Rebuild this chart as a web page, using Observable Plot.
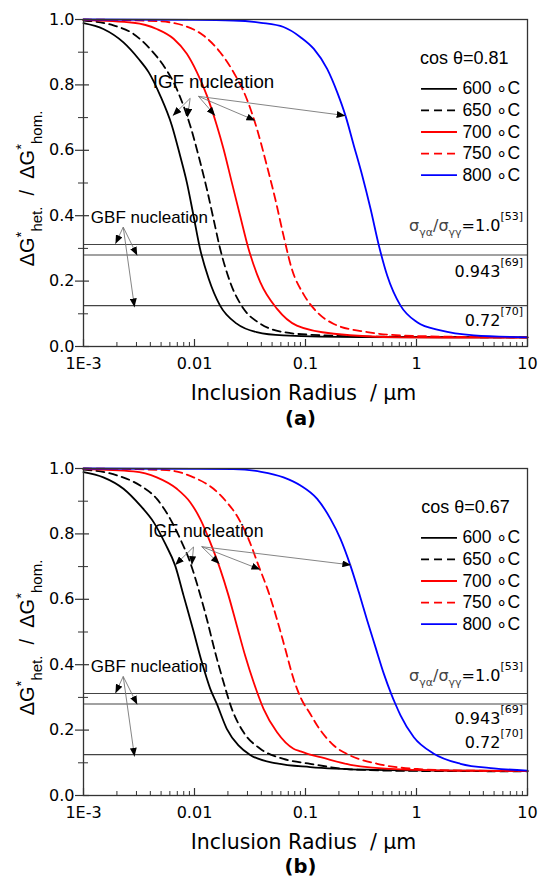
<!DOCTYPE html>
<html><head><meta charset="utf-8">
<script src="https://cdn.jsdelivr.net/npm/d3@7"></script>
<script src="https://cdn.jsdelivr.net/npm/@observablehq/plot@0.6"></script>
<style>
html,body{margin:0;padding:0;background:#fff;overflow:hidden;}
svg{display:block;}
</style></head><body><div id="chart"></div>
<script>
// ---- tick labels / categories ----
const xTickValues = [0.001, 0.01, 0.1, 1, 10];
const xTickLabels = ["1E-3", "0.01", "0.1", "1", "10"];
const yTickValues = [0, 0.2, 0.4, 0.6, 0.8, 1.0];
const yTickLabels = ["0.0", "0.2", "0.4", "0.6", "0.8", "1.0"];
const yMinorValues = [0.1, 0.3, 0.5, 0.7, 0.9];
const temps = ["600 \u2218C", "650 \u2218C", "700 \u2218C", "750 \u2218C", "800 \u2218C"];
const refLevels = [0.312, 0.28, 0.125];

// ---- panel (a): cos θ = 0.81  [radius µm, ΔG*het/ΔG*hom] ----
const a600 = [[0.001,0.989],[0.00151,0.971],[0.00229,0.93],[0.00313,0.88],[0.00386,0.839],[0.0049,0.768],[0.00625,0.676],[0.00741,0.584],[0.00853,0.502],[0.0098,0.40],[0.0112,0.30],[0.0134,0.208],[0.017,0.125],[0.024,0.07],[0.0363,0.044],[0.0631,0.034],[0.316,0.029],[10,0.028]];
const a650 = [[0.001,0.997],[0.00186,0.982],[0.00282,0.956],[0.00398,0.91],[0.00526,0.859],[0.00648,0.808],[0.00794,0.737],[0.00914,0.676],[0.01086,0.584],[0.01291,0.482],[0.01483,0.39],[0.01702,0.299],[0.02094,0.197],[0.0276,0.116],[0.0391,0.07],[0.0634,0.044],[0.1102,0.036],[0.501,0.03],[10,0.028]];
const a700 = [[0.001,0.998],[0.00282,0.99],[0.00457,0.971],[0.00648,0.941],[0.00853,0.895],[0.0105,0.839],[0.01291,0.768],[0.01589,0.676],[0.01824,0.605],[0.02168,0.502],[0.02576,0.40],[0.03062,0.30],[0.0391,0.197],[0.0552,0.116],[0.0836,0.064],[0.18,0.039],[0.718,0.028],[10,0.027]];
const a750 = [[0.001,1.0],[0.00457,0.995],[0.00794,0.982],[0.01205,0.951],[0.01702,0.9],[0.02244,0.839],[0.02958,0.757],[0.03648,0.666],[0.04487,0.553],[0.05333,0.452],[0.06339,0.339],[0.07534,0.237],[0.0959,0.16],[0.1274,0.105],[0.18,0.069],[0.36,0.044],[0.718,0.034],[3.16,0.029],[10,0.028]];
const a800 = [[0.001,1.0],[0.01,0.999],[0.0224,0.997],[0.0398,0.99],[0.0634,0.977],[0.0902,0.946],[0.1189,0.91],[0.1567,0.849],[0.1928,0.778],[0.2291,0.706],[0.2723,0.615],[0.3243,0.523],[0.3855,0.421],[0.4581,0.309],[0.5445,0.217],[0.7178,0.125],[1.014,0.074],[1.644,0.049],[3.289,0.034],[10,0.028]];

// ---- panel (b): cos θ = 0.67 ----
const b600 = [[0.001,0.989],[0.00151,0.973],[0.00229,0.938],[0.00324,0.887],[0.00428,0.836],[0.00545,0.77],[0.0067,0.703],[0.00796,0.612],[0.00966,0.51],[0.01164,0.408],[0.01384,0.327],[0.01589,0.28],[0.01954,0.204],[0.02489,0.153],[0.03177,0.124],[0.0552,0.098],[0.1102,0.087],[0.36,0.079],[2.0,0.076],[10,0.075]];
const b650 = [[0.001,0.997],[0.002,0.979],[0.00324,0.948],[0.00458,0.907],[0.00604,0.846],[0.00743,0.785],[0.00914,0.713],[0.01086,0.632],[0.01291,0.54],[0.01535,0.438],[0.01824,0.347],[0.02168,0.265],[0.0276,0.194],[0.0391,0.143],[0.0634,0.112],[0.1102,0.097],[0.254,0.08],[1.014,0.075],[10,0.074]];
const b700 = [[0.001,0.998],[0.00282,0.991],[0.00457,0.973],[0.00693,0.938],[0.00914,0.897],[0.01125,0.846],[0.01384,0.775],[0.01702,0.693],[0.02023,0.612],[0.02404,0.52],[0.02858,0.428],[0.03404,0.347],[0.04188,0.265],[0.0552,0.194],[0.078,0.143],[0.0902,0.135],[0.1102,0.125],[0.1365,0.117],[0.254,0.094],[0.718,0.08],[2.864,0.076],[10,0.075]];
const b750 = [[0.001,1.0],[0.00562,0.995],[0.0098,0.973],[0.01483,0.938],[0.01954,0.897],[0.02404,0.856],[0.03062,0.785],[0.03776,0.703],[0.04645,0.622],[0.05521,0.54],[0.06561,0.449],[0.078,0.357],[0.0902,0.30],[0.1102,0.25],[0.1274,0.214],[0.1799,0.153],[0.254,0.122],[0.4426,0.097],[1.014,0.081],[2.864,0.076],[10,0.075]];
const b800 = [[0.001,1.0],[0.01,0.999],[0.0224,0.998],[0.0398,0.99],[0.0634,0.973],[0.0902,0.948],[0.1274,0.907],[0.1679,0.846],[0.2065,0.785],[0.2541,0.703],[0.302,0.622],[0.3597,0.535],[0.4276,0.453],[0.5082,0.372],[0.5916,0.311],[0.6471,0.279],[0.7178,0.245],[0.9462,0.178],[1.432,0.128],[2.489,0.097],[4.977,0.083],[10,0.076]];

const seriesColors = ["#000000", "#000000", "#ff0000", "#ff0000", "#0000ff"];
const seriesDash = [null, "8,5", null, "8,5", null];

// annotation arrows [x1, y1, x2, y2] in data units
const arrowsA = [[0.00914,0.759,0.00637,0.706],[0.00914,0.759,0.00865,0.701],[0.01086,0.765,0.01535,0.706],[0.01086,0.765,0.03524,0.691],[0.01086,0.765,0.2291,0.706],
                 [0.00228,0.365,0.00194,0.314],[0.00228,0.365,0.00305,0.278],[0.00228,0.365,0.00288,0.12]];
const arrowsB = [[0.0098,0.76,0.0067,0.705],[0.0098,0.76,0.00946,0.705],[0.01161,0.761,0.0168,0.708],[0.01161,0.761,0.0391,0.691],[0.01161,0.761,0.2576,0.705],
                 [0.00228,0.364,0.00194,0.313],[0.00228,0.364,0.00305,0.278],[0.00228,0.364,0.00288,0.119]];

const ARIAL = "Liberation Sans, Arial, sans-serif";
const DEJA = "DejaVu Sans, sans-serif";

const xMinor = [];
for (const dec of [0.001, 0.01, 0.1, 1]) for (let k = 2; k <= 9; k++) xMinor.push(k * dec);

function rich(sel, parts, base) {
  let cur = 0;
  for (const p of parts) {
    const sh = p.shift || 0;
    const t = sel.append("tspan").attr("dy", sh - cur).attr("font-size", p.size || base).text(p.t);
    if (p.fill) t.attr("fill", p.fill);
    cur = sh;
  }
}

function panel(p) {
  const W = 538, mL = 83, mR = 11, plotW = W - mL - mR;
  const plotH = p.height - p.mT - p.mB;
  const legend = temps.map((t, i) => ({t, i, y: 0.788 - i * 0.066}));
  const chart = Plot.plot({
    width: W, height: p.height,
    marginLeft: mL, marginRight: mR, marginTop: p.mT, marginBottom: p.mB,
    x: {type: "log", domain: [0.001, 10], axis: null},
    y: {domain: [0, 1], axis: null},
    style: {background: "white", fontFamily: DEJA},
    marks: [
      Plot.ruleY(refLevels, {y: d => d, stroke: "#444", strokeWidth: 1.1}),
      ...p.series.map((s, i) => Plot.line(s, {x: d => d[0], y: d => d[1], stroke: seriesColors[i], strokeWidth: 1.8, strokeDasharray: seriesDash[i] || undefined, curve: "monotone-x"})),
      Plot.link(p.arrows, {x1: d => d[0], y1: d => d[1], x2: d => d[2], y2: d => d[3], stroke: "#777", strokeWidth: 0.9, curve: "linear"}),
      // legend (one mark per entry so each keeps its own dash pattern)
      ...legend.map(d => Plot.ruleY([d], {y: e => e.y, x1: 1.11, x2: 2.34, stroke: seriesColors[d.i], strokeWidth: 1.8, strokeDasharray: seriesDash[d.i] || undefined})),
      Plot.text(legend, {x: 2.59, y: d => d.y, text: d => d.t, textAnchor: "start", fontSize: 17.5, fontFamily: ARIAL, fill: "black"}),
      Plot.text([p.cosText], {x: p.cosX, y: 0.865, text: d => d, textAnchor: "end", lineAnchor: "bottom", fontSize: 18, fontFamily: ARIAL, fill: "black"}),
      // annotations
      Plot.text(["IGF nucleation"], {x: p.igfX, y: p.igfY, text: d => d, textAnchor: "middle", lineAnchor: "bottom", fontSize: p.igfSize, fontFamily: ARIAL, fill: "black"}),
      Plot.text(["GBF nucleation"], {x: 0.001164, y: 0.377, text: d => d, textAnchor: "start", lineAnchor: "bottom", fontSize: 17, fontFamily: ARIAL, fill: "black"}),
      // frame & ticks
      Plot.frame({stroke: "#333", strokeWidth: 1.3}),
      Plot.ruleX(xMinor, {x: d => d, insetTop: plotH - 4, stroke: "#333", strokeWidth: 1}),
      Plot.ruleX(xTickValues, {x: d => d, insetTop: plotH - 7, stroke: "#333", strokeWidth: 1.2}),
      Plot.ruleY(yMinorValues, {y: d => d, insetLeft: -5, insetRight: plotW - 5, stroke: "#333", strokeWidth: 1}),
      Plot.ruleY(yTickValues, {y: d => d, insetLeft: -8, insetRight: plotW - 6, stroke: "#333", strokeWidth: 1.2}),
      Plot.text(xTickValues, {x: d => d, text: (d, i) => xTickLabels[i], frameAnchor: "bottom", lineAnchor: "top", dy: 11, fontSize: 16, fontFamily: DEJA, fill: "black"}),
      Plot.text(yTickValues, {y: d => d, text: (d, i) => yTickLabels[i], frameAnchor: "left", textAnchor: "end", dx: -9, fontSize: 16, fontFamily: DEJA, fill: "black"}),
      Plot.text(["Inclusion Radius\u00a0\u00a0/\u00a0\u03bcm"], {text: d => d, frameAnchor: "bottom", lineAnchor: "bottom", dy: 53.5, dx: -2, fontSize: 20.5, fontFamily: DEJA, fill: "black"}),
      Plot.text([p.tag], {text: d => d, frameAnchor: "bottom", lineAnchor: "bottom", dy: p.tagDy, dx: -5, fontSize: 19.5, fontWeight: "bold", fontFamily: DEJA, fill: "black"})
    ]
  });

  const s = d3.select(chart);
  const id = "ah" + p.tag.replace(/\W/g, "");
  s.append("defs").append("marker")
    .attr("id", id).attr("viewBox", "0 0 10 8").attr("refX", 10).attr("refY", 4)
    .attr("markerWidth", 9).attr("markerHeight", 7).attr("markerUnits", "userSpaceOnUse").attr("orient", "auto")
    .append("path").attr("d", "M0,0L10,4L0,8Z").attr("fill", "#000");
  s.selectAll('g[aria-label="link"] path').attr("marker-end", `url(#${id})`);

  const xs = chart.scale("x"), ys = chart.scale("y");
  // y-axis title
  const yl = s.append("text")
    .attr("transform", `translate(34,${p.mT + plotH / 2 + 6}) rotate(-90)`)
    .attr("text-anchor", "middle").attr("font-family", ARIAL).attr("fill", "black");
  rich(yl, [
    {t: "\u0394G"}, {t: "*", size: 15, shift: -8}, {t: "het.", size: 15, shift: 8},
    {t: "\u00a0\u00a0/\u00a0\u00a0\u0394G"}, {t: "*", size: 15, shift: -8}, {t: "hom.", size: 15, shift: 8}
  ], 20);

  // reference-line labels
  const rx = xs.apply(10) - 4;
  const labels = [
    [{t: "\u03c3", fill: "#444"}, {t: "\u03b3\u03b1", size: 11, shift: 5, fill: "#444"}, {t: "/\u03c3", fill: "#444"}, {t: "\u03b3\u03b3", size: 11, shift: 5, fill: "#444"}, {t: "=1.0"}, {t: "[53]", size: 11, shift: -11}],
    [{t: "0.943"}, {t: "[69]", size: 11, shift: -11}],
    [{t: "0.72"}, {t: "[70]", size: 11, shift: -11}]
  ];
  labels.forEach((parts, i) => {
    const t = s.append("text").attr("x", rx).attr("y", ys.apply(p.refLabelY[i]))
      .attr("text-anchor", "end").attr("font-family", DEJA).attr("fill", "black");
    rich(t, parts, 16);
  });
  return chart;
}

const root = document.getElementById("chart");
root.append(panel({height: 440, mT: 19, mB: 94, series: [a600, a650, a700, a750, a800], arrows: arrowsA,
  cosText: "cos \u03b8=0.81", cosX: 6.75, igfX: 0.01483, igfY: 0.792, igfSize: 18.7, tag: "(a)", tagDy: 78.8,
  refLabelY: [0.3526, 0.210, 0.0612]}));
root.append(panel({height: 450, mT: 28, mB: 95, series: [b600, b650, b700, b750, b800], arrows: arrowsB,
  cosText: "cos \u03b8=0.67", cosX: 6.93, igfX: 0.0127, igfY: 0.79, igfSize: 17.7, tag: "(b)", tagDy: 77.5,
  refLabelY: [0.3495, 0.216, 0.143]}));
</script></body></html>
